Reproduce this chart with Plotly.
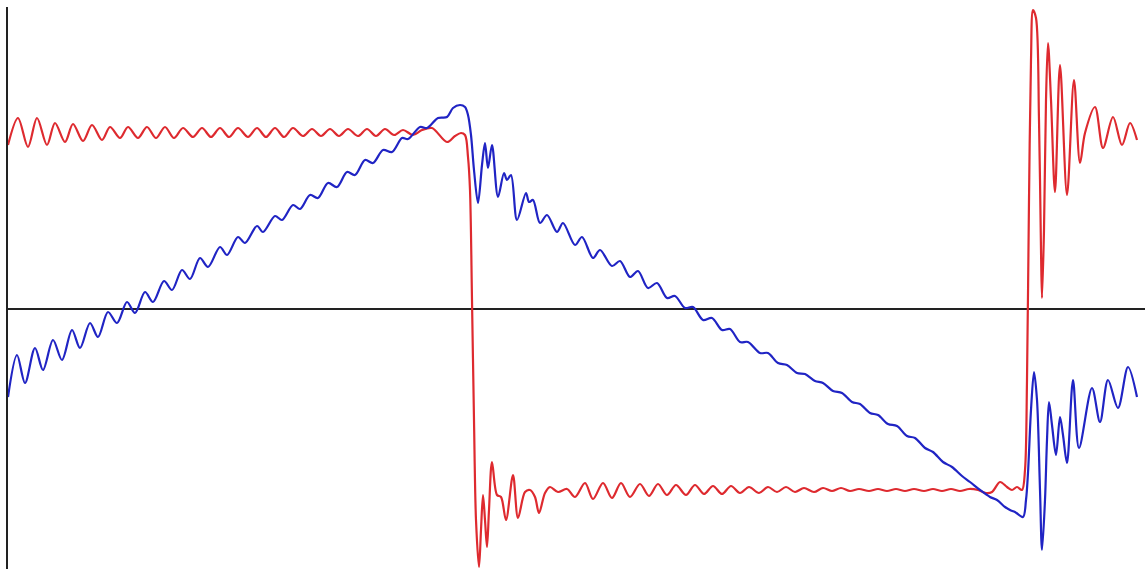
import plotly.graph_objects as go

# Red trace: square-wave partial sum (sample positions and values)
red_t = [8, 18, 28, 37, 47, 55, 65, 73, 83, 92, 102, 110, 120, 128, 138, 147, 156, 165, 174, 183,
         193, 202, 211, 220, 229, 238, 248, 257, 266, 275, 284, 293, 303, 312, 321, 330, 339, 348,
         358, 367, 376, 385, 394, 403, 413, 422, 432, 447, 455, 461, 465, 468, 470, 472, 474, 476,
         479, 481, 483, 485, 487, 489, 492, 497, 501, 506, 513, 518, 525, 530, 535, 539, 545, 550,
         558, 567, 575, 585, 593, 603, 612, 621, 630, 640, 649, 658, 667, 676, 686, 695, 704, 713,
         722, 731, 740, 749, 759, 768, 777, 786, 795, 804, 814, 823, 832, 841, 850, 859, 869, 878,
         887, 896, 905, 914, 924, 933, 942, 951, 960, 969, 978, 986, 992, 1000, 1007, 1012, 1017,
         1022, 1025, 1027, 1029, 1031, 1033, 1036, 1039, 1041, 1042, 1044, 1046, 1048, 1051, 1055,
         1060, 1067, 1074, 1080, 1085, 1095, 1103, 1113, 1122, 1130, 1137]
red_v = [164, 191, 162, 191, 164, 186, 167, 185, 168, 184, 169, 182, 171, 182,
         171, 182, 171, 182, 171, 181, 172, 181, 172, 181, 172, 181, 172, 181, 172, 181,
         172, 181, 173, 180, 173, 180, 173, 180, 173, 180, 173, 180, 174, 179, 174, 179, 181,
         167, 173, 176, 174, 152, 119, 9,
         -111, -211, -258, -221, -186, -211, -238, -201, -153, -186, -188, -211, -166, -209, -183,
         -181, -188, -204, -184, -178, -183, -180, -188, -174, -190,
         -174, -189, -174, -188, -175, -187, -175, -186, -176, -186, -176, -185, -177, -185,
         -177, -184, -178, -184, -178, -183, -178, -183, -179, -183, -179, -182, -179, -182,
         -180, -182, -180, -182, -180, -182, -180, -182, -180, -182, -180, -182, -180,
         -181, -184, -183, -173, -178, -181, -178, -181, -161,
         -71, 109, 249, 299, 291, 189, 59, 11, 79, 209, 266, 209, 117, 244, 114, 229, 146, 176, 202,
         161, 192, 164, 186, 169]

# Blue trace: companion partial sum
blue_t = [8, 17, 25, 35, 43, 53, 62, 72, 80, 90, 98, 108, 117, 127, 135, 145, 153, 164, 172, 182,
          190, 200, 208, 220, 227, 238, 245, 257, 263, 275, 282, 293, 300, 310, 318, 328, 337, 347,
          355, 365, 373, 383, 392, 402, 408, 420, 427, 438, 447, 453, 460, 465, 468, 471, 474, 478,
          482, 485, 488, 492, 498, 504, 507, 511, 517, 526, 529, 533, 540, 547, 557, 563, 575, 582,
          593, 600, 612, 620, 630, 638, 648, 657, 667, 675, 685, 693, 703, 712, 722, 730, 740, 748,
          760, 768, 778, 787, 797, 805, 815, 823, 833, 842, 852, 860, 870, 878, 888, 897, 907, 915,
          925, 933, 943, 952, 962, 970, 980, 990, 997, 1005, 1010, 1015, 1023, 1026, 1028, 1031,
          1034, 1037, 1040, 1042, 1045, 1047, 1049, 1052, 1056, 1060, 1063, 1067, 1073, 1079, 1092,
          1100, 1108, 1118, 1128, 1137]
blue_v = [-88, -46, -74, -39, -61, -31, -51, -21, -39, -14, -28, -3, -14, 7, -4, 17, 7, 28, 19, 39,
          30, 51, 42, 62, 54, 72, 66, 83, 77, 93, 89, 104, 100, 114, 111, 126, 122, 137, 134, 149,
          146, 159, 157, 171, 170, 182, 181, 191, 192, 201, 204, 202, 194, 174, 139, 106, 144, 166,
          141, 164, 112, 136, 129, 134, 89, 116, 107, 109, 86, 94, 77, 86, 64, 72, 51, 59, 43, 48,
          32, 38, 21, 26, 11, 13, 1, 2, -11, -9, -21, -20, -33, -33, -44, -44, -54, -56, -64, -65,
          -72, -74, -82, -84, -93, -95, -104, -106, -115, -117, -127, -129, -139, -143, -153, -158,
          -167, -173, -181, -188, -191, -198, -201, -203, -208, -191, -164, -101, -63, -91, -181,
          -241, -191, -131, -93, -116, -146, -108, -126, -154, -71, -139, -79, -113, -71, -99, -58,
          -88]

fig = go.Figure()
fig.add_trace(go.Scatter(x=red_t, y=red_v, mode="lines",
                         line=dict(color="#de2a2f", width=2.2, shape="spline", smoothing=0.9),
                         hoverinfo="skip"))
fig.add_trace(go.Scatter(x=blue_t, y=blue_v, mode="lines",
                         line=dict(color="#2024c4", width=2.2, shape="spline", smoothing=0.9),
                         hoverinfo="skip"))

fig.update_layout(
    width=1145, height=571,
    margin=dict(l=8, r=0, t=7, b=2),
    paper_bgcolor="white", plot_bgcolor="white",
    showlegend=False,
    xaxis=dict(range=[8, 1145], showgrid=False, zeroline=False, showticklabels=False,
               ticks="", showline=False),
    yaxis=dict(range=[-260, 302], showgrid=False, showticklabels=False, ticks="",
               zeroline=True, zerolinecolor="#222222", zerolinewidth=2,
               showline=True, linecolor="#222222", linewidth=2),
)

fig.write_html("out.html")
